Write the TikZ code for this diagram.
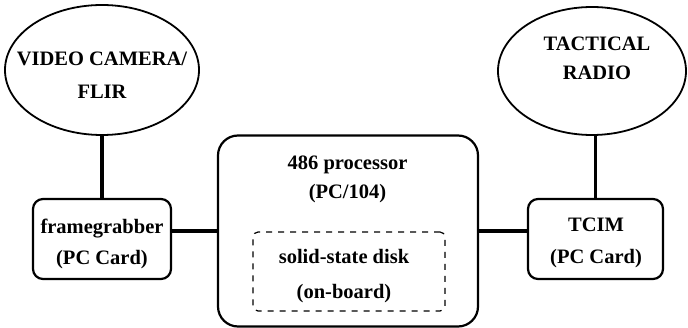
\documentclass[tikz,border=0pt]{standalone}
\usepackage{fontspec}
\setmainfont{Liberation Serif}
\usetikzlibrary{shapes.geometric}
\tikzset{
  ell/.style={ellipse, draw, line width=1.8pt, inner sep=0pt},
  card/.style={rectangle, draw, line width=2.2pt, rounded corners=10pt, inner sep=0pt},
  proc/.style={rectangle, draw, line width=2.2pt, rounded corners=20pt, inner sep=0pt},
  disk/.style={rectangle, draw, line width=1.2pt, dash pattern=on 6pt off 6pt, rounded corners=5pt, inner sep=0pt},
  conn/.style={line width=3.5pt},
  txt/.style={align=center, inner sep=0pt, font=\bfseries\fontsize{20.5}{#1}\selectfont},
  txt/.default=31pt
}
\begin{document}
\begin{tikzpicture}[x=1pt,y=-1pt]
\useasboundingbox (0,0) rectangle (688,328);
% shapes
\node[ell, minimum width=194pt, minimum height=130pt] (cam) at (102,70) {};
\node[ell, minimum width=188pt, minimum height=128pt] (radio) at (592,71) {};
\node[card, minimum width=138pt, minimum height=80pt] (fg) at (102,239) {};
\node[card, minimum width=135pt, minimum height=80pt] (tcim) at (595.5,239) {};
\node[proc, minimum width=260pt, minimum height=191pt] (pr) at (348,231) {};
\node[disk, minimum width=192pt, minimum height=79pt] (ssd) at (349,271.5) {};
% texts
\node[txt=33pt] (camt) at (102,75) {VIDEO CAMERA/\\FLIR};
\node[txt=29pt] (radiot) at (597,58.5) {TACTICAL\\RADIO};
\node[txt=31pt] (fgt) at (102,244) {framegrabber\\(PC Card)};
\node[txt=32pt] (tcimt) at (596,242.5) {TCIM\\(PC Card)};
\node[txt=29pt] (prt) at (347.5,179) {486 processor\\(PC/104)};
\node[txt=35pt] (ssdt) at (344,276.5) {solid-state disk\\(on-board)};
% connectors
\draw[conn] (cam.south) -- (fg.north);
\draw[conn] (radio.south -| tcim.north) -- (tcim.north);
\draw[conn] (pr.west -| fg.east) -- (pr.west);
\draw[conn] (pr.east) -- (pr.east -| tcim.west);
\end{tikzpicture}
\end{document}
